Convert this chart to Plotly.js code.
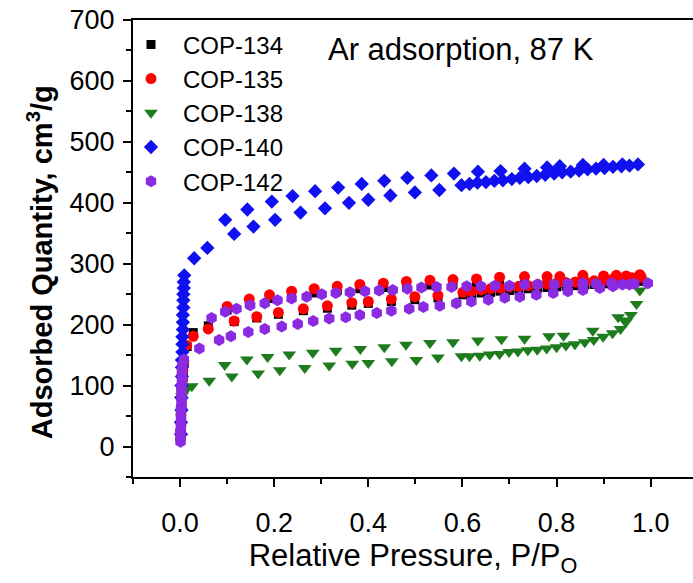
<!DOCTYPE html>
<html>
<head>
<meta charset="utf-8">
<script src="https://cdn.plot.ly/plotly-3.0.1.min.js"></script>
<style>html,body{margin:0;padding:0;background:#fff;}#chart{width:693px;height:583px;}</style>
</head>
<body>
<div id="chart"></div>
<script>
// Series names
const seriesNames = ["COP-134", "COP-135", "COP-138", "COP-140", "COP-142"];

// COP-134 (black squares)
const cop134_x = [0.001,0.002,0.002,0.003,0.003,0.004,0.005,0.006,0.007,0.009,0.015,
  0.028,0.060,0.115,0.163,0.209,0.262,0.313,0.365,0.400,0.449,0.499,0.548,
  0.601,0.620,0.640,0.660,0.680,0.700,0.720,0.740,0.760,0.780,0.800,0.820,0.840,0.860,0.880,0.900,0.920,0.940,0.960,0.980,
  0.977,0.948,0.927,0.900,0.856,0.807,0.780,0.732,0.679,0.630,0.580,0.531,0.481,0.432,0.382,0.334,0.285,0.237,0.190,0.147,0.100];
const cop134_y = [10,22,35,50,64,78,93,108,123,138,164,
  187,198,205,211,217,223,227,232,235,238,241,244,
  249,250,252,253,255,256,258,259,260,261,262,263,264,265,266,267,268,269,270,271,
  274,273,273,272,272,271,271,270,269,267,266,265,263,261,259,256,252,248,243,236,224];

// COP-135 (red circles)
const cop135_x = [0.001,0.001,0.002,0.002,0.003,0.003,0.004,0.005,0.006,0.008,0.014,
  0.028,0.060,0.115,0.163,0.209,0.262,0.313,0.365,0.400,0.449,0.499,0.548,
  0.601,0.620,0.640,0.660,0.680,0.700,0.720,0.740,0.760,0.780,0.800,0.820,0.840,0.860,0.880,0.900,0.920,0.940,0.960,0.980,
  0.977,0.948,0.927,0.900,0.856,0.807,0.780,0.732,0.679,0.630,0.580,0.531,0.481,0.432,0.382,0.334,0.285,0.237,0.190,0.147,0.100];
const cop135_y = [12,25,38,52,66,80,95,110,125,140,166,
  181,193,206,213,220,226,231,236,238,242,246,248,
  253,255,257,259,260,262,263,264,266,267,268,269,270,271,272,273,275,276,277,278,
  282,280,281,280,281,279,279,279,278,275,274,273,271,268,266,263,259,255,249,242,230];

// COP-138 (green down-triangles)
const cop138_x = [0.002,0.004,0.006,0.009,0.012,
  0.025,0.062,0.110,0.166,0.212,0.265,0.317,0.366,0.400,0.450,0.502,0.548,
  0.598,0.615,0.637,0.658,0.679,0.699,0.718,0.739,0.759,0.779,0.800,0.820,0.839,0.860,0.879,0.899,0.919,0.936,0.947,0.958,0.970,0.977,
  0.948,0.931,0.877,0.815,0.784,0.732,0.683,0.633,0.580,0.531,0.480,0.434,0.383,0.331,0.282,0.232,0.186,0.142,0.095];
const cop138_y = [78,83,87,90,93,
  99,108,115,120,125,129,133,136,137,140,142,146,
  148,148,149,151,152,155,156,158,159,161,163,166,168,171,175,180,186,193,204,216,234,256,
  207,212,190,182,181,177,176,174,171,170,167,163,160,157,154,151,147,143,134];

// COP-140 (blue diamonds)
const cop140_x = [0.002,0.002,0.003,0.003,0.003,0.004,0.004,0.004,0.005,0.005,0.005,0.006,0.006,0.006,0.007,0.007,0.007,0.008,0.008,0.009,
  0.030,0.058,0.115,0.156,0.202,0.256,0.308,0.359,0.400,0.447,0.499,0.551,
  0.598,0.615,0.632,0.650,0.668,0.686,0.705,0.722,0.740,0.758,0.776,0.795,0.812,0.830,0.848,0.866,0.884,0.902,0.920,0.938,0.955,0.973,
  0.940,0.900,0.856,0.807,0.780,0.732,0.681,0.633,0.582,0.534,0.483,0.434,0.386,0.336,0.287,0.239,0.195,0.143,0.096];
const cop140_y = [20,40,60,80,100,115,130,142,155,168,180,192,204,216,228,240,250,260,270,281,
  309,326,349,361,372,384,391,400,405,412,417,421,
  429,431,433,434,436,437,439,441,442,444,446,448,450,451,453,455,456,457,459,460,461,463,
  463,462,462,460,458,456,452,451,448,445,441,436,431,425,419,411,402,389,372];

// COP-142 (purple hexagons)
const cop142_x = [0.001,0.001,0.001,0.002,0.002,0.002,0.002,0.003,0.003,0.003,0.003,0.004,0.004,0.004,0.005,0.008,
  0.041,0.083,0.108,0.145,0.180,0.216,0.250,0.283,0.317,0.352,0.382,0.418,0.449,0.487,0.517,0.552,0.587,0.619,0.655,0.690,0.722,0.757,0.793,0.824,0.856,0.892,0.920,0.955,
  0.994,0.965,0.940,0.917,0.884,0.856,0.824,0.795,0.760,0.732,0.700,0.669,0.639,0.609,0.577,0.545,0.513,0.483,0.452,0.423,0.393,0.361,0.331,0.301,0.269,0.237,0.207,0.180,0.149,0.120,0.096,0.067];
const cop142_y = [8,17,26,35,44,53,62,71,80,89,98,107,116,125,134,143,
  161,175,181,188,193,197,201,206,210,212,216,219,223,226,229,231,235,238,241,244,246,249,252,255,257,260,263,266,
  268,267,266,268,267,268,267,266,266,266,264,264,263,263,262,262,261,259,257,256,255,253,252,250,246,243,240,235,232,226,221,211];

// Tick labels
const xTickVals = [0, 0.2, 0.4, 0.6, 0.8, 1.0];
const xTickText = ["0.0", "0.2", "0.4", "0.6", "0.8", "1.0"];
const yTickVals = [0, 100, 200, 300, 400, 500, 600, 700];
const yTickText = ["0", "100", "200", "300", "400", "500", "600", "700"];

const FONT = "Liberation Sans, Arial, sans-serif";
const styles = [
  {symbol: "square", color: "#000000", size: 9},
  {symbol: "circle", color: "#FF0000", size: 11},
  {symbol: "triangle-down", color: "#1E7B1E", size: 12},
  {symbol: "diamond", color: "#1010F0", size: 11},
  {symbol: "hexagon", color: "#8A2BE2", size: 12}
];
const xs = [cop134_x, cop135_x, cop138_x, cop140_x, cop142_x];
const ys = [cop134_y, cop135_y, cop138_y, cop140_y, cop142_y];

const traces = seriesNames.map((n, i) => ({
  type: "scatter", mode: "markers", name: n,
  x: xs[i], y: ys[i],
  marker: {symbol: styles[i].symbol, color: styles[i].color, size: styles[i].size, line: {width: 0}}
}));

const layout = {
  width: 693, height: 583,
  margin: {l: 133, r: 0, t: 20, b: 106},
  paper_bgcolor: "#fff", plot_bgcolor: "#fff",
  font: {family: FONT, color: "#000"},
  showlegend: true,
  legend: {x: -0.025, y: 0.995, xanchor: "left", yanchor: "top", bgcolor: "rgba(0,0,0,0)",
    font: {family: FONT, size: 24, color: "#000"}, itemwidth: 54, tracegroupgap: 0},
  xaxis: {
    range: [-0.1, 1.09], showgrid: false, zeroline: false,
    showline: true, linecolor: "#000", linewidth: 2, mirror: true,
    ticks: "outside", ticklen: 8, tickwidth: 2, tickcolor: "#000",
    tickvals: xTickVals, ticktext: xTickText, ticklabelstandoff: 13,
    tickfont: {family: FONT, size: 27, color: "#000"},
    minor: {dtick: 0.1, tick0: 0, ticks: "outside", ticklen: 5, tickwidth: 2, tickcolor: "#000"},
    title: {text: "Relative Pressure, P/P<sub>O</sub>", font: {family: FONT, size: 31, color: "#000"}, standoff: 6}
  },
  yaxis: {
    range: [-50, 700], showgrid: false, zeroline: false,
    showline: true, linecolor: "#000", linewidth: 2, mirror: false,
    ticks: "outside", ticklen: 8, tickwidth: 2, tickcolor: "#000",
    tickvals: yTickVals, ticktext: yTickText, ticklabelstandoff: 3,
    tickfont: {family: FONT, size: 27, color: "#000"},
    minor: {dtick: 50, tick0: 0, ticks: "outside", ticklen: 5, tickwidth: 2, tickcolor: "#000"}
  },
  annotations: [{
    xref: "paper", yref: "paper", x: 0.586, y: 0.936, xanchor: "center", yanchor: "middle",
    text: "Ar adsorption, 87 K", showarrow: false,
    font: {family: FONT, size: 31, color: "#000"}
  }, {
    xref: "paper", yref: "paper", x: -0.166, y: 0.47, xanchor: "center", yanchor: "middle",
    textangle: -90, text: "<b>Adsorbed Quantity, cm<sup>3</sup>/g</b>", showarrow: false,
    font: {family: FONT, size: 29, color: "#000"}
  }]
};

Plotly.newPlot("chart", traces, layout, {displayModeBar: false, staticPlot: true});
</script>
</body>
</html>
